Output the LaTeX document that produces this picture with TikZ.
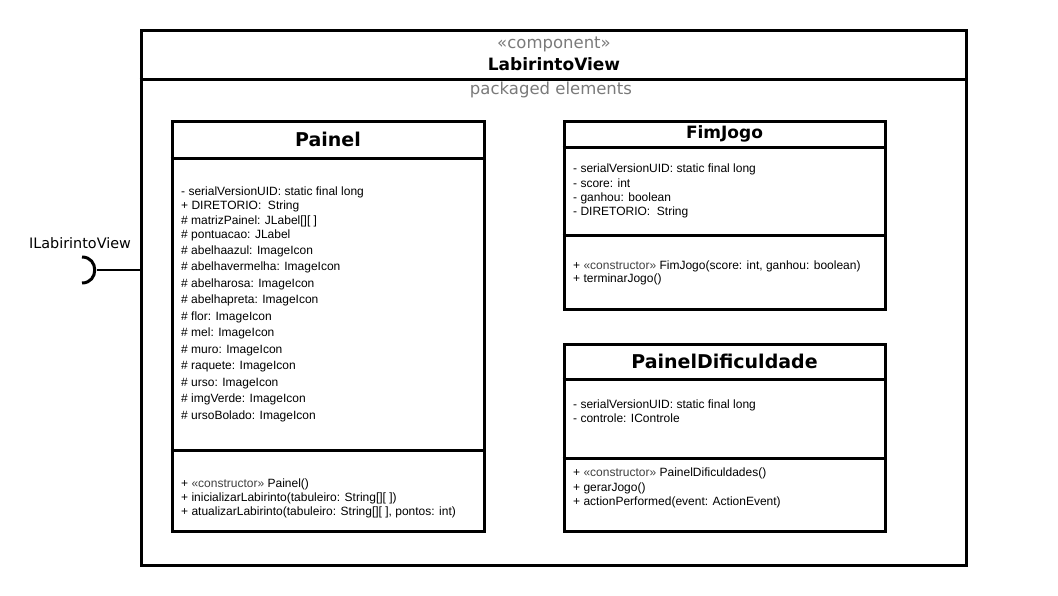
\documentclass[tikz,border=0pt]{standalone}
\usepackage{fontspec}
\setmainfont{Liberation Sans}
\newfontfamily\verdana{DejaVu Sans}
\definecolor{cinza}{HTML}{7A7A7A}
\definecolor{estereo}{HTML}{404040}
\tikzset{%
    caixa/.style={draw, line width=3pt, inner sep=0pt},
    divisor/.style={line width=3pt},
    titulo/.style={inner sep=0pt, font=\verdana\bfseries\fontsize{19}{22}\selectfont},
    membro/.style={anchor=west, inner sep=0pt, yshift=-1.5pt, text height=9pt, text depth=3pt, font=\fontsize{12}{14}\selectfont}
}
\newcommand{\constr}{{\color{estereo}«constructor»}}

\begin{document}
\begin{tikzpicture}[x=1pt, y=-1pt]
    \useasboundingbox (0,0) rectangle (1058,595);
    % componente
    \node[caixa, minimum width=825pt, minimum height=535pt] (comp) at (553.5,297.5) {};
    \coordinate (hcomp) at (0,79);
    \draw[divisor] (comp.west |- hcomp) -- (comp.east |- hcomp);
    \node[inner sep=0pt, text=cinza, font=\verdana\fontsize{16.5}{18}\selectfont] (estereotipo) at (554,44) {«component»};
    \node[inner sep=0pt, font=\verdana\bfseries\fontsize{17}{19}\selectfont] (nomecomp) at (554,64.5) {LabirintoView};
    \node[inner sep=0pt, text=cinza, font=\verdana\fontsize{16.5}{18}\selectfont] (pacote) at (551,89.5) {packaged elements};

    % interface requerida
    \node[inner sep=0pt, font=\verdana\fontsize{14.4}{16}\selectfont] (iface) at (80,243) {ILabirintoView};
    \coordinate (sock) at (97,270);
    \draw[line width=3pt] (82,257) .. controls (99,257) and (99,283) .. (82,283);
    \draw[line width=2.2pt] (sock) -- (sock -| comp.west);

    % Painel
    \node[caixa, minimum width=312pt, minimum height=410pt] (painel) at (328,326) {};
    \node[titulo] (tpainel) at (328,139) {Painel};
    \coordinate (hp1) at (0,158);
    \coordinate (hp2) at (0,450);
    \draw[divisor] (painel.west |- hp1) -- (painel.east |- hp1);
    \draw[divisor] (painel.west |- hp2) -- (painel.east |- hp2);
    \foreach \y/\t [count=\i] in {191/- serialVersionUID: static final long,
            205/+ DIRETORIO:\ \ String, 220/\# matrizPainel: JLabel[][ ],
            234/\# pontuacao: JLabel, 250/\# abelhaazul: ImageIcon,
            266/\# abelhavermelha: ImageIcon, 283/\# abelharosa: ImageIcon,
            299/\# abelhapreta: ImageIcon, 316/\# flor: ImageIcon,
            332/\# mel: ImageIcon, 349/\# muro: ImageIcon,
            365/\# raquete: ImageIcon, 382/\# urso: ImageIcon,
            398/\# imgVerde: ImageIcon, 415/\# ursoBolado: ImageIcon}
        \node[membro] (pa\i) at (181,\y) {\t};
    \foreach \y/\t [count=\i] in {483/+ \constr\ Painel(),
            497/+ inicializarLabirinto(tabuleiro: String[][ ]),
            511/{+ atualizarLabirinto(tabuleiro: String[][ ], pontos: int)}}
        \node[membro] (pm\i) at (181,\y) {\t};

    % FimJogo
    \node[caixa, minimum width=321pt, minimum height=188pt] (fim) at (724.5,215) {};
    \node[titulo, font=\verdana\bfseries\fontsize{17}{20}\selectfont] (tfim) at (724.5,134) {FimJogo};
    \coordinate (hf1) at (0,147);
    \coordinate (hf2) at (0,235);
    \draw[divisor] (fim.west |- hf1) -- (fim.east |- hf1);
    \draw[divisor] (fim.west |- hf2) -- (fim.east |- hf2);
    \foreach \y/\t [count=\i] in {168/- serialVersionUID: static final long,
            183/- score: int, 197/- ganhou: boolean, 211/- DIRETORIO:\ \ String}
        \node[membro] (fa\i) at (573,\y) {\t};
    \foreach \y/\t [count=\i] in {265/{+ \constr\ FimJogo(score: int, ganhou: boolean)},
            278/+ terminarJogo()}
        \node[membro] (fm\i) at (573,\y) {\t};

    % PainelDificuldade
    \node[caixa, minimum width=321pt, minimum height=187pt] (dific) at (724.5,437.5) {};
    \node[titulo] (tdific) at (724.5,361) {PainelDificuldade};
    \coordinate (hd1) at (0,379);
    \coordinate (hd2) at (0,458);
    \draw[divisor] (dific.west |- hd1) -- (dific.east |- hd1);
    \draw[divisor] (dific.west |- hd2) -- (dific.east |- hd2);
    \foreach \y/\t [count=\i] in {404/- serialVersionUID: static final long,
            418/- controle: IControle}
        \node[membro] (da\i) at (573,\y) {\t};
    \foreach \y/\t [count=\i] in {472/+ \constr\ PainelDificuldades(),
            487/+ gerarJogo(), 501/+ actionPerformed(event: ActionEvent)}
        \node[membro] (dm\i) at (573,\y) {\t};
\end{tikzpicture}
\end{document}
